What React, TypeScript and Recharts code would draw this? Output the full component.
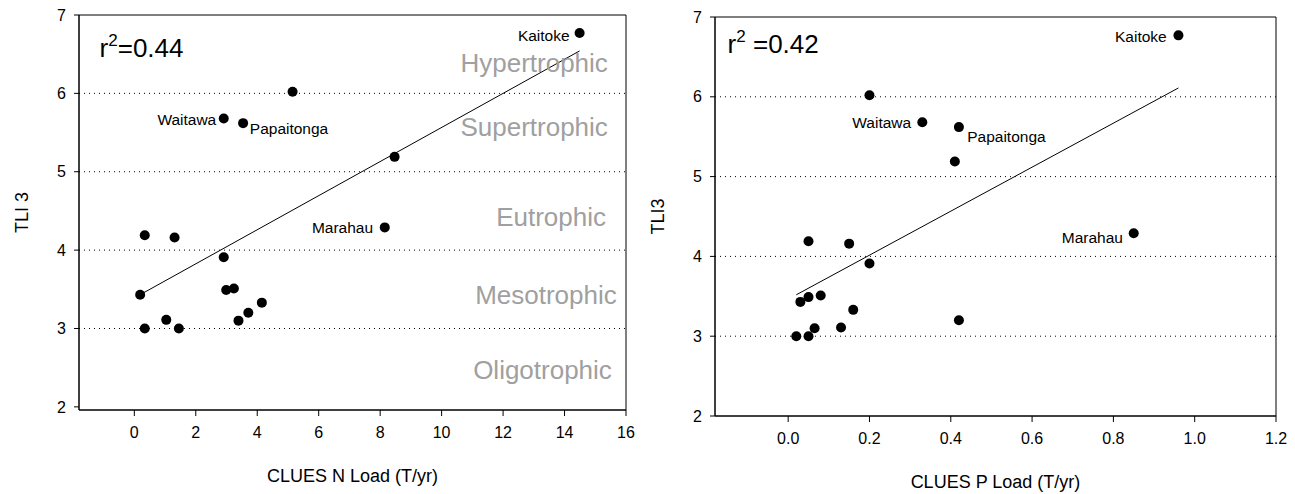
import { ScatterChart, Scatter, XAxis, YAxis, ReferenceLine, ReferenceArea, ReferenceDot } from "recharts"

// one row per lake, same order in both panels
const siteNames = ["Kaitoke", "", "Waitawa", "Papaitonga", "", "Marahau", "", "", "", "", "", "", "", "", "", "", "", ""]
const tli3 = [6.77, 6.02, 5.68, 5.62, 5.19, 4.29, 4.19, 4.16, 3.91, 3.43, 3.49, 3.51, 3.33, 3.2, 3.1, 3.11, 3.0, 3.0]
const nLoad = [14.49, 5.15, 2.91, 3.54, 8.47, 8.15, 0.34, 1.31, 2.91, 0.19, 2.99, 3.24, 4.15, 3.71, 3.39, 1.04, 0.34, 1.45]
const pLoad = [0.96, 0.2, 0.33, 0.42, 0.41, 0.85, 0.05, 0.15, 0.2, 0.03, 0.05, 0.08, 0.16, 0.42, 0.065, 0.13, 0.02, 0.05]

const nTicks = [0, 2, 4, 6, 8, 10, 12, 14, 16]
const pTicks = [0, 0.2, 0.4, 0.6, 0.8, 1.0, 1.2]
const tliTicks = [2, 3, 4, 5, 6, 7]
const gridLevels = [3, 4, 5, 6]

// linear fits
const nFit = { intercept: 3.39, slope: 0.2175, r2: "0.44" }
const pFit = { intercept: 3.464, slope: 2.757, r2: "0.42" }

const trophicStates = ["Hypertrophic", "Supertrophic", "Eutrophic", "Mesotrophic", "Oligotrophic"]

// layout only
const trophicLabelAt = [[15.41, 6.39], [15.41, 5.57], [15.35, 4.42], [15.7, 3.43], [15.54, 2.47]]

type Placement = { dx: number; dy: number; anchor: "start" | "end" }

const nLabelPlacement: Record<string, Placement> = {
    Kaitoke: { dx: -10, dy: 2, anchor: "end" },
    Waitawa: { dx: -7.5, dy: 1, anchor: "end" },
    Papaitonga: { dx: 6.7, dy: 5, anchor: "start" },
    Marahau: { dx: -11.7, dy: 0, anchor: "end" },
}

const pLabelPlacement: Record<string, Placement> = {
    Kaitoke: { dx: -11.7, dy: 1, anchor: "end" },
    Waitawa: { dx: -11.2, dy: 0, anchor: "end" },
    Papaitonga: { dx: 8.3, dy: 9, anchor: "start" },
    Marahau: { dx: -10.8, dy: 4, anchor: "end" },
}

const FONT = "'Liberation Sans', Arial, Helvetica, sans-serif"

interface PanelProps {
    left: number
    width: number
    marginTop: number
    marginRight: number
    yAxisWidth: number
    xAxisHeight: number
    xs: number[]
    xDomain: [number, number]
    yDomain: [number, number]
    xTicks: number[]
    xFormat: (v: number) => string
    fit: { intercept: number; slope: number; r2: string }
    r2Sep: string
    r2At: [number, number]
    xTitle: string
    yTitle: string
    yTitleX: number
    placement: Record<string, Placement>
    trophic: boolean
}

function siteShape(placement: Record<string, Placement>) {
    return (props: any) => {
        const { cx, cy } = props
        const name = props.payload?.name ?? props.name
        const p = placement[name]
        return (
            <g>
                <circle cx={cx} cy={cy} r={5} fill="#000" />
                {p && (
                    <text x={cx + p.dx} y={cy + p.dy} textAnchor={p.anchor} dominantBaseline="central"
                        fontSize={15.5} fontFamily={FONT} fill="#000">
                        {name}
                    </text>
                )}
            </g>
        )
    }
}

function Panel(props: PanelProps) {
    const { xs, fit, xDomain, yDomain } = props
    const data = xs.map((x, i) => ({ x, y: tli3[i], name: siteNames[i] }))
    const xMin = Math.min(...xs)
    const xMax = Math.max(...xs)
    const segment = [
        { x: xMin, y: fit.intercept + fit.slope * xMin },
        { x: xMax, y: fit.intercept + fit.slope * xMax },
    ]
    const tickStyle = { fontSize: 16, fill: "#000", fontFamily: FONT }

    const xTitleContent = (lp: any) => {
        const vb = lp.viewBox || {}
        return (
            <text x={vb.x + vb.width / 2} y={vb.y + 72} textAnchor="middle" fontSize={18} fontFamily={FONT} fill="#000">
                {props.xTitle}
            </text>
        )
    }
    const yTitleContent = (lp: any) => {
        const vb = lp.viewBox || {}
        const cy = vb.y + vb.height / 2
        return (
            <text x={props.yTitleX} y={cy} transform={`rotate(-90 ${props.yTitleX} ${cy})`} textAnchor="middle"
                dominantBaseline="central" fontSize={18} fontFamily={FONT} fill="#000">
                {props.yTitle}
            </text>
        )
    }

    return (
        <div style={{ position: "absolute", left: props.left, top: 0 }}>
            <ScatterChart width={props.width} height={494}
                margin={{ top: props.marginTop, right: props.marginRight, bottom: 0, left: 0 }}>
                <XAxis type="number" dataKey="x" domain={xDomain} ticks={props.xTicks} interval={0} allowDataOverflow
                    height={props.xAxisHeight} tickSize={6} tickMargin={11} tick={tickStyle}
                    tickFormatter={props.xFormat} stroke="#000" label={xTitleContent} />
                <YAxis type="number" dataKey="y" domain={yDomain} ticks={tliTicks} interval={0} allowDataOverflow
                    width={props.yAxisWidth} tickSize={5} tickMargin={8} tick={tickStyle} stroke="#000"
                    label={yTitleContent} />
                {gridLevels.map((v) => (
                    <ReferenceLine key={v} y={v} stroke="#000" strokeDasharray="1 4" strokeWidth={1} />
                ))}
                <ReferenceArea x1={xDomain[0]} x2={xDomain[1]} y1={yDomain[0]} y2={yDomain[1]}
                    fill="none" fillOpacity={0} stroke="#000" strokeWidth={1} ifOverflow="visible" />
                {props.trophic && trophicStates.map((s, i) => (
                    <ReferenceDot key={s} x={trophicLabelAt[i][0]} y={trophicLabelAt[i][1]} r={0} ifOverflow="visible"
                        shape={(p: any) => (
                            <text x={p.cx} y={p.cy} textAnchor="end" dominantBaseline="central" fontSize={26}
                                fontFamily={FONT} fill="#a0a0a0">
                                {s}
                            </text>
                        )} />
                ))}
                <ReferenceDot x={props.r2At[0]} y={props.r2At[1]} r={0} ifOverflow="visible"
                    shape={(p: any) => (
                        <text x={p.cx} y={p.cy} fontSize={26} fontFamily={FONT} fill="#000" style={{ whiteSpace: "pre" }}>
                            r<tspan dy={-11} fontSize={17}>2</tspan>
                            <tspan dy={11}>{props.r2Sep + "=" + fit.r2}</tspan>
                        </text>
                    )} />
                <ReferenceLine segment={segment} stroke="#000" strokeWidth={1} ifOverflow="visible" />
                <Scatter data={data} isAnimationActive={false} shape={siteShape(props.placement)} />
            </ScatterChart>
        </div>
    )
}

export default function App() {
    return (
        <div style={{ position: "absolute", left: 0, top: 0, width: 1295, height: 494, background: "#fff" }}>
            <Panel left={0} width={640} marginTop={15} marginRight={14} yAxisWidth={79} xAxisHeight={84}
                xs={nLoad} xDomain={[-1.8, 16]} yDomain={[1.96, 7]} xTicks={nTicks} xFormat={(v) => String(v)}
                fit={nFit} r2Sep="" r2At={[-1.13, 6.47]} xTitle="CLUES N Load (T/yr)" yTitle="TLI 3" yTitleX={21.7}
                placement={nLabelPlacement} trophic={true} />
            <Panel left={640} width={655} marginTop={17} marginRight={19} yAxisWidth={75} xAxisHeight={78}
                xs={pLoad} xDomain={[-0.18, 1.2]} yDomain={[2, 7]} xTicks={pTicks} xFormat={(v) => v.toFixed(1)}
                fit={pFit} r2Sep=" " r2At={[-0.149, 6.55]} xTitle="CLUES P Load (T/yr)" yTitle="TLI3" yTitleX={17.5}
                placement={pLabelPlacement} trophic={false} />
        </div>
    )
}
